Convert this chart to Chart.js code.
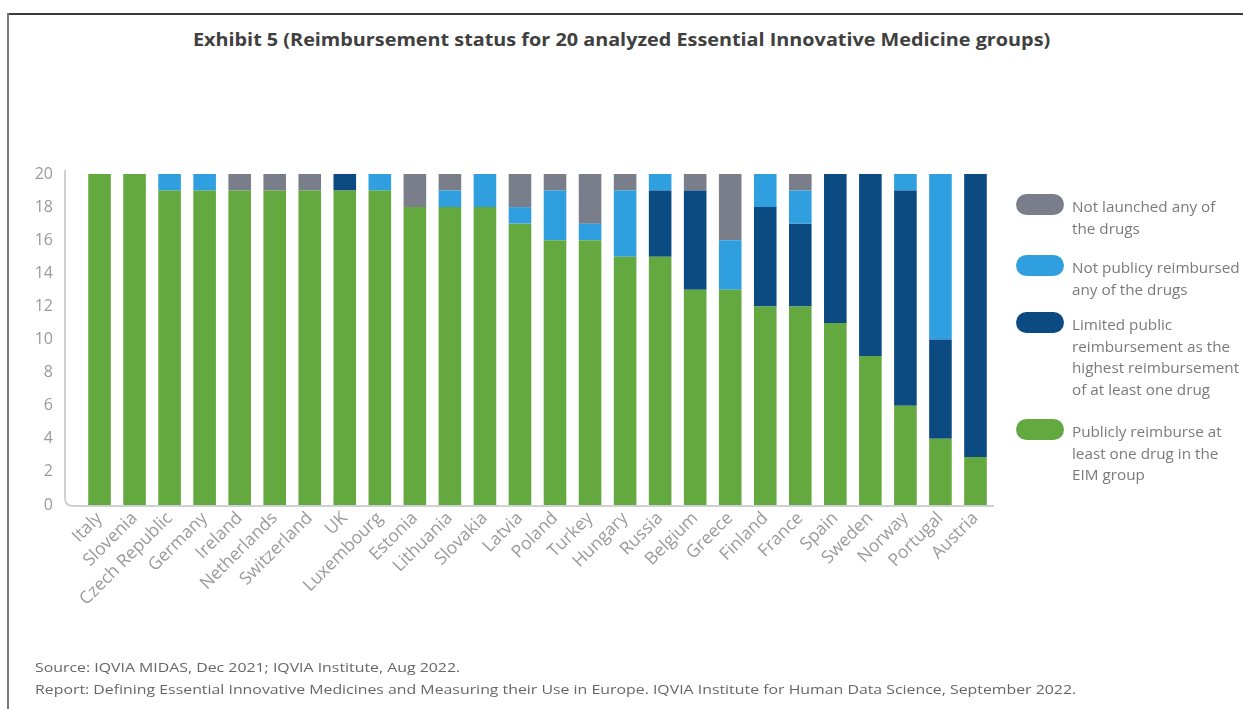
<!DOCTYPE html>
<html>
<head>
<meta charset="utf-8">
<title>Exhibit 5</title>
<script src="https://cdn.jsdelivr.net/npm/chart.js@4/dist/chart.umd.min.js"></script>
<style>
  html, body { margin: 0; padding: 0; background: #fff; }
  #page { position: relative; width: 1243px; height: 709px; overflow: hidden; background: #fff; font-family: "Open Sans", sans-serif; }
  #frameTop { position: absolute; left: 7px; top: 13px; width: 1236px; height: 2px; background: #3a3a3a; }
  #frameLeft { position: absolute; left: 7px; top: 13px; width: 2px; height: 696px; background: #7a7a7a; }
  #title { position: absolute; left: 0; top: 28px; width: 1243px; text-align: center; font-weight: 700; font-size: 17px; color: #404040; transform: scaleX(1.165); transform-origin: 621px 0; }
  #chartBox { position: absolute; left: 0; top: 0; width: 1243px; height: 709px; }
  #legend { position: absolute; left: 1016px; top: 0; width: 227px; }
  .item { position: absolute; left: 0; width: 227px; }
  .pill { position: absolute; left: 0; width: 48px; height: 21px; border-radius: 11px; }
  .txt { position: absolute; left: 56px; top: 2px; font-size: 14px; line-height: 21.7px; color: #7a7a7a; white-space: nowrap; transform: scaleX(1.09); transform-origin: 0 0; }
  #footer { position: absolute; left: 35px; top: 656px; font-size: 13px; line-height: 22px; color: #666; white-space: nowrap; transform: scaleX(1.22); transform-origin: 0 0; }
</style>
</head>
<body>
<div id="page">
  <div id="frameTop"></div>
  <div id="frameLeft"></div>
  <div id="title">Exhibit 5 (Reimbursement status for 20 analyzed Essential Innovative Medicine groups)</div>
  <div id="chartBox"><canvas id="chart" width="1243" height="709"></canvas></div>
  <div id="legend"></div>
  <div id="footer">Source: IQVIA MIDAS, Dec 2021; IQVIA Institute, Aug 2022.<br>Report: Defining Essential Innovative Medicines and Measuring their Use in Europe. IQVIA Institute for Human Data Science, September 2022.</div>
</div>
<script>
// Countries, in the order shown on the x axis
const countries = ['Italy', 'Slovenia', 'Czech Republic', 'Germany', 'Ireland', 'Netherlands', 'Switzerland', 'UK',
  'Luxembourg', 'Estonia', 'Lithuania', 'Slovakia', 'Latvia', 'Poland', 'Turkey', 'Hungary', 'Russia',
  'Belgium', 'Greece', 'Finland', 'France', 'Spain', 'Sweden', 'Norway', 'Portugal', 'Austria'];

// Number of EIM groups per reimbursement status (stacked bottom to top)
const publiclyReimbursed = [20, 20, 19, 19, 19, 19, 19, 19, 19, 18, 18, 18, 17, 16, 16, 15, 15, 13, 13, 12, 12, 11, 9, 6, 4, 2.9];
const limitedReimbursement = [0, 0, 0, 0, 0, 0, 0, 1, 0, 0, 0, 0, 0, 0, 0, 0, 4, 6, 0, 6, 5, 9, 11, 13, 6, 17.1];
const notReimbursed = [0, 0, 1, 1, 0, 0, 0, 0, 1, 0, 1, 2, 1, 3, 1, 4, 1, 0, 3, 2, 2, 0, 0, 1, 10, 0];
const notLaunched = [0, 0, 0, 0, 1, 1, 1, 0, 0, 2, 1, 0, 2, 1, 3, 1, 0, 1, 4, 0, 1, 0, 0, 0, 0, 0];

// Y axis tick values
const yTicks = [0, 2, 4, 6, 8, 10, 12, 14, 16, 18, 20];

// Legend entries (top to bottom) and their wrapped text
const legendLabels = [
  ['Not launched any of', 'the drugs'],
  ['Not publicy reimbursed', 'any of the drugs'],
  ['Limited public', 'reimbursement as the', 'highest reimbursement', 'of at least one drug'],
  ['Publicly reimburse at', 'least one drug in the', 'EIM group']
];

const COLORS = {
  green: '#64a93f',
  navy: '#0b4b82',
  sky: '#2f9fe0',
  grey: '#7a7e8b'
};

const legendColors = [COLORS.grey, COLORS.sky, COLORS.navy, COLORS.green];
const legendTops = [194, 255, 312, 419];

// Build the HTML legend
const legendEl = document.getElementById('legend');
legendLabels.forEach((lines, i) => {
  const item = document.createElement('div');
  item.className = 'item';
  item.style.top = legendTops[i] + 'px';
  const pill = document.createElement('div');
  pill.className = 'pill';
  pill.style.background = legendColors[i];
  const txt = document.createElement('div');
  txt.className = 'txt';
  txt.innerHTML = lines.join('<br>');
  item.appendChild(pill);
  item.appendChild(txt);
  legendEl.appendChild(item);
});

// L-shaped axis with a rounded corner, drawn slightly left of the first bar slot
const axisFrame = {
  id: 'axisFrame',
  beforeDatasetsDraw(chart) {
    const { ctx, chartArea, scales } = chart;
    const x0 = chartArea.left - 17;
    const yTop = scales.y.getPixelForValue(20) - 4;
    const yBot = scales.y.getPixelForValue(0) + 1;
    const xEnd = chartArea.right + 1;
    const r = 8;
    ctx.save();
    ctx.strokeStyle = '#cfd0d3';
    ctx.lineWidth = 2;
    ctx.beginPath();
    ctx.moveTo(x0, yTop);
    ctx.lineTo(x0, yBot - r);
    ctx.quadraticCurveTo(x0, yBot, x0 + r, yBot);
    ctx.lineTo(xEnd, yBot);
    ctx.stroke();
    ctx.restore();
  }
};

const ds = (label, data, color) => ({
  label, data, backgroundColor: color, borderWidth: 0,
  categoryPercentage: 1, barPercentage: 0.645
});

new Chart(document.getElementById('chart'), {
  type: 'bar',
  data: {
    labels: countries,
    datasets: [
      ds('Publicly reimburse at least one drug in the EIM group', publiclyReimbursed, COLORS.green),
      ds('Limited public reimbursement as the highest reimbursement of at least one drug', limitedReimbursement, COLORS.navy),
      ds('Not publicy reimbursed any of the drugs', notReimbursed, COLORS.sky),
      ds('Not launched any of the drugs', notLaunched, COLORS.grey)
    ]
  },
  options: {
    responsive: false,
    animation: false,
    layout: { padding: { left: 0, right: 250, top: 174, bottom: 4 } },
    plugins: {
      legend: { display: false },
      tooltip: { enabled: false },
      title: { display: false }
    },
    scales: {
      x: {
        stacked: true,
        grid: { display: false, drawTicks: false },
        border: { display: false },
        ticks: {
          minRotation: 45, maxRotation: 45, padding: 3,
          color: '#9a9a9a',
          font: { family: 'Open Sans', size: 17.5 }
        },
        afterFit(scale) { scale.height = 200; }
      },
      y: {
        stacked: true,
        min: 0, max: 20,
        afterBuildTicks(scale) { scale.ticks = yTicks.map(v => ({ value: v })); },
        grid: { display: false, drawTicks: false },
        border: { display: false },
        ticks: {
          padding: 29,
          color: '#9a9a9a',
          font: { family: 'Open Sans', size: 16 }
        },
        afterFit(scale) { scale.width = 82; }
      }
    }
  },
  plugins: [axisFrame]
});
</script>
</body>
</html>
